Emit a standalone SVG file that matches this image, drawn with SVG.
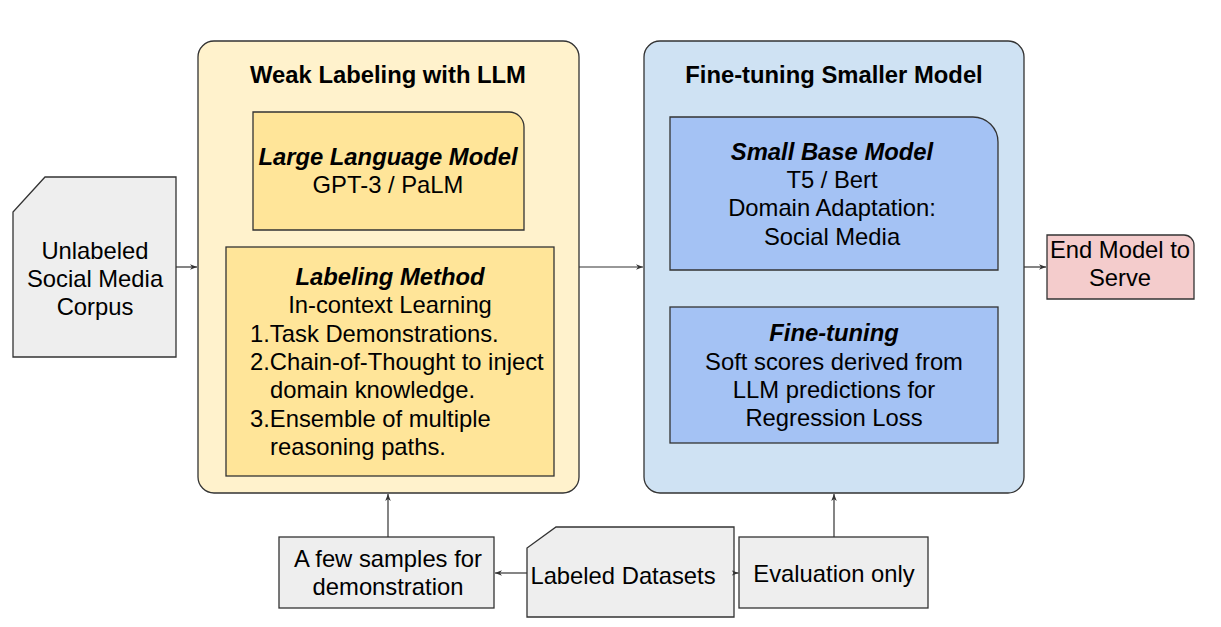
<svg xmlns="http://www.w3.org/2000/svg" width="1221" height="627" viewBox="0 0 1221 627">
<defs>
<marker id="arr" viewBox="0 0 10 10" refX="10" refY="5" markerWidth="7" markerHeight="7" markerUnits="userSpaceOnUse" orient="auto">
<path d="M0,1 L10,5 L0,9 L3,5 Z" fill="#333"/>
</marker>
</defs>
<style>
text{font-family:"Liberation Sans",Arial,sans-serif;font-size:23.8px;fill:#000;text-anchor:middle}
.t{font-weight:bold}
.bi{font-weight:bold;font-style:italic}
.l{text-anchor:start}
.sh{stroke:#333;stroke-width:1.3}
.c{fill:none;stroke:#333;stroke-width:1.2;marker-end:url(#arr)}
</style>
<rect width="1221" height="627" fill="#fff"/>
<g id="corpus">
<path class="sh" d="M45,177 H176 V357 H13 V212 Z" fill="#eeeeee"/>
<text x="95" y="259">Unlabeled</text>
<text x="95" y="287">Social Media</text>
<text x="95" y="315">Corpus</text>
</g>
<g id="weak">
<rect class="sh" x="198" y="41" width="381" height="452" rx="16" fill="#fff2cc"/>
<text class="t" x="388" y="83">Weak Labeling with LLM</text>
</g>
<g id="llm">
<path class="sh" d="M253,112 H509 A15,15 0 0 1 524,127 V230 H253 Z" fill="#ffe599"/>
<text class="bi" x="388" y="165">Large Language Model</text>
<text x="388" y="193">GPT-3 / PaLM</text>
</g>
<g id="method">
<rect class="sh" x="226" y="247" width="328" height="229" fill="#ffe599"/>
<text class="bi" x="390" y="285">Labeling Method</text>
<text x="390" y="313">In-context Learning</text>
<text class="l" x="250" y="342">1.Task Demonstrations.</text>
<text class="l" x="250" y="370">2.Chain-of-Thought to inject</text>
<text class="l" x="270" y="398">domain knowledge.</text>
<text class="l" x="250" y="427">3.Ensemble of multiple</text>
<text class="l" x="270" y="455">reasoning paths.</text>
</g>
<g id="finetune">
<rect class="sh" x="644" y="41" width="380" height="452" rx="16" fill="#cfe2f3"/>
<text class="t" x="834" y="83">Fine-tuning Smaller Model</text>
</g>
<g id="base">
<path class="sh" d="M670,117 H973 A25,25 0 0 1 998,142 V270 H670 Z" fill="#a4c2f4"/>
<text class="bi" x="832" y="160">Small Base Model</text>
<text x="832" y="188">T5 / Bert</text>
<text x="832" y="216">Domain Adaptation:</text>
<text x="832" y="245">Social Media</text>
</g>
<g id="ft">
<rect class="sh" x="670" y="307" width="328" height="136" fill="#a4c2f4"/>
<text class="bi" x="834" y="341">Fine-tuning</text>
<text x="834" y="370">Soft scores derived from</text>
<text x="834" y="398">LLM predictions for</text>
<text x="834" y="426">Regression Loss</text>
</g>
<g id="end">
<path class="sh" d="M1047,235 H1184 A10,10 0 0 1 1194,245 V299 H1047 Z" fill="#f4cccc"/>
<text x="1120" y="258">End Model to</text>
<text x="1120" y="286">Serve</text>
</g>
<g id="samples">
<rect class="sh" x="279" y="537" width="215" height="71" fill="#eeeeee"/>
<text x="388" y="567">A few samples for</text>
<text x="388" y="595">demonstration</text>
</g>
<g id="labeled">
<path class="sh" d="M556,527 H734 V617 H527 V548 Z" fill="#eeeeee"/>
<text x="623" y="584">Labeled Datasets</text>
</g>
<g id="eval">
<rect class="sh" x="739" y="537" width="189" height="71" fill="#eeeeee"/>
<text x="834" y="582">Evaluation only</text>
</g>
<g id="connectors">
<path class="c" d="M176,267 H197"/>
<path class="c" d="M579,267 H643"/>
<path class="c" d="M1024,267 H1046"/>
<path class="c" d="M388,537 V494"/>
<path class="c" d="M834,537 V494"/>
<path class="c" d="M527,573 H495"/>
<path class="c" d="M734,573 H738.5"/>
</g>
</svg>
